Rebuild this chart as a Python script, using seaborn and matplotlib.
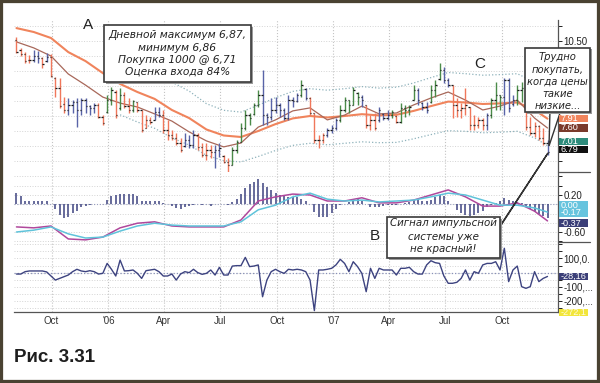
import numpy as np
import pandas as pd
import matplotlib
matplotlib.use("Agg")
import matplotlib.pyplot as plt
import matplotlib.dates as mdates
import matplotlib.ticker as mticker
from matplotlib.patches import Rectangle, Polygon
from matplotlib.lines import Line2D
import seaborn as sns

# weekly bars, Aug 2005 - Dec 2007
weeks = pd.date_range("2005-08-05", periods=124, freq="7D")

bar_high = [10.63, 10.27, 10.13, 10.03, 10.20, 10.17, 9.97, 10.10, 10.07, 9.30,
            9.27, 8.63, 8.60, 8.53, 8.60, 8.60, 8.60, 8.37, 8.43, 8.43,
            8.03, 8.70, 8.97, 8.87, 8.93, 8.80, 8.60, 8.53, 8.47, 8.20,
            8.03, 7.97, 8.30, 8.30, 8.20, 7.87, 7.53, 7.43, 7.27, 7.43,
            7.37, 7.53, 7.43, 7.10, 7.10, 7.03, 7.03, 7.10, 6.70, 6.60,
            6.97, 7.20, 7.77, 8.20, 8.10, 8.43, 8.87, 9.53, 8.10, 8.60,
            8.63, 8.43, 8.27, 8.70, 8.63, 8.77, 9.20, 8.93, 8.63, 8.10,
            7.37, 7.43, 7.60, 7.70, 7.93, 8.37, 8.63, 8.53, 8.97, 8.80,
            8.70, 8.37, 8.03, 8.10, 8.30, 8.10, 8.20, 8.20, 8.03, 8.43,
            8.37, 8.37, 9.03, 8.93, 8.47, 8.47, 9.03, 9.20, 9.77, 9.63,
            9.27, 9.03, 8.60, 8.43, 8.93, 8.30, 8.03, 7.97, 7.93, 8.10,
            8.60, 9.13, 8.70, 9.27, 9.27, 8.70, 9.03, 9.13, 8.93, 7.97,
            7.80, 7.70, 7.60, 7.20]
bar_low = [10.10, 10.00, 9.77, 9.77, 9.80, 9.77, 9.60, 9.80, 9.30, 8.63,
           8.27, 8.10, 8.03, 8.10, 7.63, 8.03, 8.10, 8.03, 8.10, 7.93,
           7.70, 8.10, 8.37, 7.93, 8.20, 8.27, 8.10, 8.13, 8.13, 7.47,
           7.60, 7.73, 7.87, 7.97, 7.43, 7.20, 7.20, 7.03, 6.80, 6.97,
           6.93, 6.93, 6.87, 6.63, 6.53, 6.60, 6.27, 6.63, 6.43, 6.13,
           6.37, 6.77, 7.13, 7.53, 7.70, 8.03, 8.30, 7.70, 7.70, 7.87,
           8.10, 7.97, 7.87, 7.87, 8.30, 8.47, 8.63, 8.53, 8.03, 7.10,
           6.93, 7.10, 7.30, 7.43, 7.53, 7.80, 8.13, 8.10, 8.37, 8.37,
           8.30, 7.60, 7.53, 7.53, 7.80, 7.87, 7.87, 7.93, 7.77, 7.77,
           7.97, 8.03, 8.53, 8.37, 8.20, 8.10, 8.43, 8.63, 9.20, 9.10,
           8.97, 7.93, 7.97, 7.93, 8.03, 7.53, 7.53, 7.60, 7.53, 7.53,
           7.93, 8.20, 8.20, 8.03, 8.13, 8.33, 8.37, 8.47, 7.53, 7.37,
           7.30, 7.20, 7.03, 6.70]
bar_open = [10.53, 10.20, 10.07, 9.87, 9.87, 10.00, 9.93, 9.83, 9.97, 9.27,
            8.93, 8.40, 8.20, 8.37, 8.47, 8.20, 8.53, 8.33, 8.27, 8.37,
            7.97, 8.13, 8.53, 8.80, 8.27, 8.70, 8.33, 8.20, 8.47, 8.20,
            7.60, 7.87, 7.87, 8.13, 8.03, 7.53, 7.37, 7.27, 7.10, 7.00,
            7.20, 7.03, 7.37, 6.97, 6.70, 6.87, 6.80, 6.87, 6.67, 6.47,
            6.37, 6.87, 7.13, 7.60, 8.03, 8.05, 8.37, 8.70, 8.03, 7.97,
            8.20, 8.37, 8.20, 7.93, 8.53, 8.50, 8.70, 8.90, 8.60, 8.10,
            7.20, 7.20, 7.37, 7.53, 7.60, 7.87, 8.20, 8.53, 8.37, 8.77,
            8.63, 8.37, 7.70, 7.87, 7.87, 8.07, 7.93, 8.03, 8.00, 7.80,
            8.27, 8.20, 8.53, 8.87, 8.43, 8.30, 8.47, 8.87, 9.23, 9.53,
            9.20, 9.03, 8.37, 8.20, 8.27, 8.30, 7.70, 7.70, 7.87, 7.70,
            8.03, 8.53, 8.70, 8.63, 9.20, 8.40, 8.53, 8.87, 8.93, 7.63,
            7.43, 7.67, 7.27, 7.10]
bar_close = [10.13, 10.07, 9.83, 9.87, 10.00, 9.93, 9.73, 9.97, 9.33, 8.93,
             8.33, 8.20, 8.37, 8.47, 8.20, 8.53, 8.33, 8.27, 8.37, 7.97,
             7.77, 8.53, 8.87, 8.03, 8.70, 8.33, 8.20, 8.50, 8.20, 7.53,
             7.87, 7.80, 8.13, 8.03, 7.53, 7.37, 7.27, 7.10, 6.87, 7.20,
             7.03, 7.37, 6.97, 6.70, 6.87, 6.80, 6.87, 6.93, 6.47, 6.37,
             6.87, 7.13, 7.60, 8.03, 7.93, 8.37, 8.70, 8.03, 7.97, 8.20,
             8.37, 8.20, 7.93, 8.53, 8.50, 8.70, 9.03, 8.60, 8.10, 7.20,
             7.20, 7.37, 7.53, 7.60, 7.87, 8.20, 8.53, 8.37, 8.87, 8.63,
             8.53, 7.70, 7.87, 7.60, 8.20, 7.93, 8.03, 8.13, 7.80, 8.27,
             8.20, 8.30, 8.87, 8.53, 8.30, 8.20, 8.87, 9.03, 9.53, 9.20,
             9.03, 8.37, 8.20, 8.27, 8.37, 7.70, 7.70, 7.87, 7.70, 8.03,
             8.53, 8.70, 8.63, 9.20, 8.27, 8.53, 8.87, 8.93, 7.63, 7.43,
             7.67, 7.27, 7.10, 6.79]
# impulse system colour of every bar: g = green, r = red, b = blue
impulse = list("rrrrbbrbrrrrbbbbbbbrrggrgrrgrrrrbbrrrrrbbbrrrrbbrr"
               "gggggggbbbbbbbbbgbrrrrbbbgggggbrrrbbbgrggggbbbgggbb"
               "rrrrrrrrbgggbbbggrrrrrb")

macd_hist = [0.25, 0.17, 0.08, 0.08, 0.08, 0.08, 0.08, 0.08, 0.01, -0.11,
             -0.23, -0.30, -0.27, -0.19, -0.14, -0.06, -0.04, -0.01, 0.00, 0.00,
             0.00, 0.09, 0.17, 0.20, 0.22, 0.22, 0.22, 0.22, 0.17, 0.08,
             0.06, 0.08, 0.08, 0.06, 0.02, 0.00, -0.04, -0.09, -0.11, -0.06,
             -0.04, -0.01, 0.00, -0.01, 0.00, -0.04, 0.00, 0.00, 0.00, -0.01,
             0.04, 0.11, 0.22, 0.35, 0.44, 0.49, 0.54, 0.45, 0.38, 0.31,
             0.25, 0.20, 0.17, 0.15, 0.15, 0.15, 0.12, 0.06, 0.00, -0.16,
             -0.27, -0.28, -0.27, -0.19, -0.11, -0.01, 0.00, 0.04, 0.09, 0.11,
             0.06, 0.00, -0.05, -0.06, -0.05, -0.04, -0.02, -0.01, -0.02, 0.00,
             0.02, 0.04, 0.09, 0.11, 0.08, 0.06, 0.09, 0.15, 0.20, 0.18,
             0.08, 0.00, -0.12, -0.19, -0.23, -0.25, -0.23, -0.19, -0.14, -0.06,
             -0.01, 0.02, 0.06, 0.13, 0.09, 0.06, 0.04, 0.02, -0.05, -0.11,
             -0.16, -0.21, -0.25, -0.30]

force_index = [-11, -11, 6, 11, 11, 11, 11, 4, -25, -54,
               -42, -30, -18, 6, 23, 11, 6, 13, 6, -11,
               -6, 65, 23, -25, 89, 11, 13, 18, -6, -42,
               13, 18, 23, 6, -25, -25, -11, -54, -11, 6,
               -1, 23, -1, -13, -6, 18, -18, 37, -18, -18,
               46, 49, 49, 108, 42, 46, 54, -173, -54, 6,
               23, 6, -6, 23, 18, 23, 18, 6, -54, -272.1,
               18, 18, 23, 30, 54, 94, 65, 6, 77, 42,
               -6, -137, 30, -42, 30, 18, 18, 18, -18, 30,
               30, 37, 6, -11, -11, 54, 84, 70, 65, -25,
               -77, -77, -70, -42, 18, -54, 6, -6, 54, 65,
               65, 77, 18, 173, -65, 18, 46, -101, -113, -101,
               6, -65, -42, -28.16]

# smooth lines read every 4th week plus the last week
sample_idx = list(range(0, 124, 4)) + [123]
slow_ema = [10.93, 10.80, 10.60, 10.13, 9.83, 9.43, 9.07, 8.80, 8.57, 8.20,
            7.93, 7.55, 7.35, 7.30, 7.50, 7.73, 7.92, 8.00, 7.95, 8.00,
            8.06, 8.02, 8.04, 8.17, 8.33, 8.48, 8.45, 8.40, 8.42, 8.45,
            8.20, 7.91]
fast_ema = [10.47, 10.27, 10.00, 9.40, 9.03, 8.63, 8.43, 8.30, 8.07, 7.83,
            7.47, 7.17, 6.97, 7.10, 7.63, 7.87, 8.17, 8.27, 7.87, 8.03,
            8.33, 8.07, 8.10, 8.37, 8.60, 8.80, 8.53, 8.20, 8.33, 8.53,
            7.93, 7.60]
channel_up = [12.18, 12.03, 11.81, 11.28, 10.95, 10.50, 10.10, 9.80, 9.55, 9.13,
              8.83, 8.41, 8.19, 8.13, 8.36, 8.61, 8.82, 8.91, 8.86, 8.91,
              8.98, 8.93, 8.96, 9.10, 9.28, 9.45, 9.41, 9.36, 9.38, 9.41,
              9.13, 8.81]
channel_dn = [9.68, 9.57, 9.39, 8.98, 8.71, 8.35, 8.04, 7.80, 7.59, 7.27,
              7.03, 6.69, 6.51, 6.47, 6.65, 6.85, 7.02, 7.09, 7.04, 7.09,
              7.14, 7.11, 7.12, 7.24, 7.38, 7.51, 7.49, 7.44, 7.46, 7.49,
              7.27, 7.01]
macd_line = [-0.49, -0.51, -0.47, -0.75, -0.77, -0.71, -0.51, -0.41, -0.38, -0.47,
             -0.49, -0.49, -0.49, -0.34, 0.07, 0.16, 0.22, 0.20, 0.07, 0.07,
             0.14, 0.03, 0.03, 0.09, 0.20, 0.31, 0.16, -0.04, -0.04, 0.03,
             -0.15, -0.36]
macd_signal = [-0.60, -0.56, -0.49, -0.64, -0.73, -0.71, -0.58, -0.47, -0.41, -0.45,
               -0.47, -0.47, -0.47, -0.38, -0.12, -0.02, 0.16, 0.24, 0.11, 0.07,
               0.09, 0.05, 0.07, 0.09, 0.16, 0.24, 0.20, 0.09, -0.02, -0.02,
               -0.08, -0.17]

sns.set_theme(style="white")
plt.rcParams["font.family"] = ["Liberation Sans", "DejaVu Sans"]

W, H = 600, 383
fig = plt.figure(figsize=(6, 3.83), dpi=100)


def fxy(x, y):
    # picture pixels -> figure fraction
    return x / W, 1 - y / H


L, R = 14, 558
ax_p = fig.add_axes([L / W, 1 - 172 / H, (R - L) / W, 152 / H])
ax_m = fig.add_axes([L / W, 1 - 242 / H, (R - L) / W, 70 / H], sharex=ax_p)
ax_f = fig.add_axes([L / W, 1 - 312 / H, (R - L) / W, 70 / H], sharex=ax_p)

# price bars
impulse_colors = {"g": "#4b8b49", "r": "#f0775b", "b": "#5964a8"}
ax_p.vlines(weeks, bar_low, bar_high, colors=[impulse_colors[c] for c in impulse],
            lw=1.0, zorder=3)
tick = pd.Timedelta(days=2.2)
ax_p.hlines(bar_open, weeks - tick, weeks, colors="#1a1a1a", lw=0.9, zorder=4)
ax_p.hlines(bar_close, weeks, weeks + tick, colors="#1a1a1a", lw=0.9, zorder=4)

ema_dates = weeks[sample_idx]
sns.lineplot(x=ema_dates, y=slow_ema, ax=ax_p, color="#f0845c", lw=1.5, zorder=2)
sns.lineplot(x=ema_dates, y=fast_ema, ax=ax_p, color="#a8685a", lw=0.9, zorder=2)
sns.lineplot(x=ema_dates[6:], y=channel_up[6:], ax=ax_p, color="#8eb2bb", lw=0.9,
             linestyle=":", zorder=2)
sns.lineplot(x=ema_dates[6:], y=channel_dn[6:], ax=ax_p, color="#8eb2bb", lw=0.9,
             linestyle=":", zorder=2)

# MACD panel
ax_m.axhline(0, color="#9aa0c0", ls=":", lw=0.8)
ax_m.vlines(weeks, 0, macd_hist, colors="#3d4380", lw=1.1, zorder=3)
sns.lineplot(x=ema_dates, y=macd_line, ax=ax_m, color="#b0489c", lw=1.1, zorder=4)
sns.lineplot(x=ema_dates, y=macd_signal, ax=ax_m, color="#5fc3da", lw=1.1, zorder=4)

# force index panel
ax_f.axhline(0, color="#8890b8", ls=":", lw=0.9)
sns.lineplot(x=weeks, y=force_index, ax=ax_f, color="#3d4380", lw=1.0, zorder=3)


def quarter_label(x, pos):
    d = mdates.num2date(x)
    return "'" + d.strftime("%y") if d.month == 1 else d.strftime("%b")


for ax in (ax_p, ax_m, ax_f):
    ax.set_xlim(pd.Timestamp("2005-08-01"), pd.Timestamp("2007-12-31"))
    ax.xaxis.set_major_locator(mdates.MonthLocator(bymonth=(1, 4, 7, 10)))
    ax.xaxis.set_major_formatter(mticker.FuncFormatter(quarter_label))
    ax.grid(axis="x", ls=":", color="#c4c4c4", lw=0.8)
    ax.grid(axis="y", ls=":", color="#d4d4d4", lw=0.7)
    ax.yaxis.tick_right()
    ax.tick_params(axis="y", right=True, left=False, length=3, width=0.7, pad=1,
                   labelsize=7, colors="#222222")
    ax.tick_params(axis="x", bottom=False, labelbottom=False)
    ax.set_xlabel("")
    ax.set_ylabel("")
    for side in ("left", "top", "bottom"):
        ax.spines[side].set_visible(False)
    ax.spines["right"].set_color("#555555")
    ax.spines["right"].set_linewidth(0.9)

ax_f.spines["bottom"].set_visible(True)
ax_f.spines["bottom"].set_color("#555555")
ax_f.spines["bottom"].set_linewidth(0.9)
ax_f.tick_params(axis="x", labelbottom=True, length=0, pad=3, labelsize=7,
                 labelcolor="#333333")

price_ticks = np.arange(6.5, 11.01, 0.5)
ax_p.set_yticks(price_ticks)
ax_p.set_yticklabels(["10.50" if abs(v - 10.5) < 1e-6 else "" for v in price_ticks])
ax_p.set_ylim(6.133, 11.2)

macd_ticks = [-0.8, -0.6, -0.4, -0.2, 0.0, 0.2, 0.4, 0.6]
macd_labels = {0.2: "0.20", -0.6: "-0.60"}
ax_m.set_yticks(macd_ticks)
ax_m.set_yticklabels([macd_labels.get(v, "") for v in macd_ticks])
ax_m.set_ylim(-0.816, 0.697)

force_ticks = [-250, -200, -150, -100, -50, 0, 50, 100, 150, 200]
force_labels = {100: "100,0.", -100: "-100,...", -200: "-200,..."}
ax_f.set_yticks(force_ticks)
ax_f.set_yticklabels([force_labels.get(v, "") for v in force_ticks])
ax_f.set_ylim(-282, 217.8)

# separators in the right margin
for yy in (172, 242):
    fig.add_artist(Line2D([R / W, 590 / W], [1 - yy / H] * 2, color="#555555", lw=0.9))


# last-value tags on the right
def tag(y_px, text, bg, fg="white", h=7.5):
    rect = Rectangle(fxy(558.5, y_px + h / 2), 29 / W, h / H, transform=fig.transFigure,
                     fc=bg, ec="none", zorder=30)
    fig.add_artist(rect)
    t = fig.text(*fxy(560.5, y_px), text, ha="left", va="center", fontsize=6.6,
                 color=fg, zorder=31)
    t.set_clip_path(rect)


tag(118.5, "7.91", "#f0845c")
tag(128, "7.60", "#7a3a2c")
tag(141.5, "7.01", "#2e8c7c")
tag(149.5, "6.79", "#111111")
tag(205.2, "0.00", "#67c4de")
tag(212.8, "-0.17", "#67c4de")
tag(223, "-0.37", "#3b3f78")
tag(276.7, "-28,16", "#3b3f78")
tag(312.5, "-272,1", "#f2e63a", fg="#fffbe0")


# callout boxes
def callout(x0, y0, x1, y1, lines, ys, fs, tail=None):
    if tail is not None:
        fig.add_artist(Polygon([fxy(*p) for p in tail], closed=True,
                               transform=fig.transFigure, fc="white", ec="#333333",
                               lw=1.0, zorder=20))
    fig.add_artist(Rectangle(fxy(x0 + 1.5, y1 + 1.5), (x1 - x0) / W, (y1 - y0) / H,
                             transform=fig.transFigure, fc="#9a9a9a", ec="none",
                             zorder=20.5))
    fig.add_artist(Rectangle(fxy(x0, y1), (x1 - x0) / W, (y1 - y0) / H,
                             transform=fig.transFigure, fc="white", ec="#3a3a3a",
                             lw=1.2, zorder=21))
    for text, yy in zip(lines, ys):
        fig.text(*fxy((x0 + x1) / 2, yy), text, ha="center", va="center",
                 fontsize=fs, family="DejaVu Sans", style="italic",
                 color="#222222", zorder=22)


callout(104, 25, 251, 82,
        ["Дневной максимум 6,87,", "минимум 6,86", "Покупка 1000 @ 6,71",
         "Оценка входа 84%"],
        [35, 48, 60, 72], 7.7)
callout(525, 48, 590, 112,
        ["Трудно", "покупать,", "когда цены", "такие", "низкие..."],
        [57, 70, 82, 94, 106], 7.2,
        tail=[(550, 110), (561, 110), (549, 146)])
callout(387, 217, 500, 258,
        ["Сигнал импульсной", "системы уже", "не красный!"],
        [223.5, 236.5, 249], 7.4,
        tail=[(494, 236), (500, 226), (548, 153)])

for letter, x, y in (("A", 88, 25), ("C", 480, 64), ("B", 375, 236)):
    fig.text(*fxy(x, y), letter, ha="center", va="center", fontsize=11,
             color="#222222", zorder=25)

fig.text(*fxy(14, 357), "Рис. 3.31", ha="left", va="center", fontsize=13.5,
         fontweight="bold", color="#1e1e1e")

# outer frame of the picture
fig.add_artist(Rectangle((0, 0), 1, 1, transform=fig.transFigure, fill=False,
                         ec="#4a4232", lw=4.5, zorder=50))

fig.savefig("out.png", dpi=100)
